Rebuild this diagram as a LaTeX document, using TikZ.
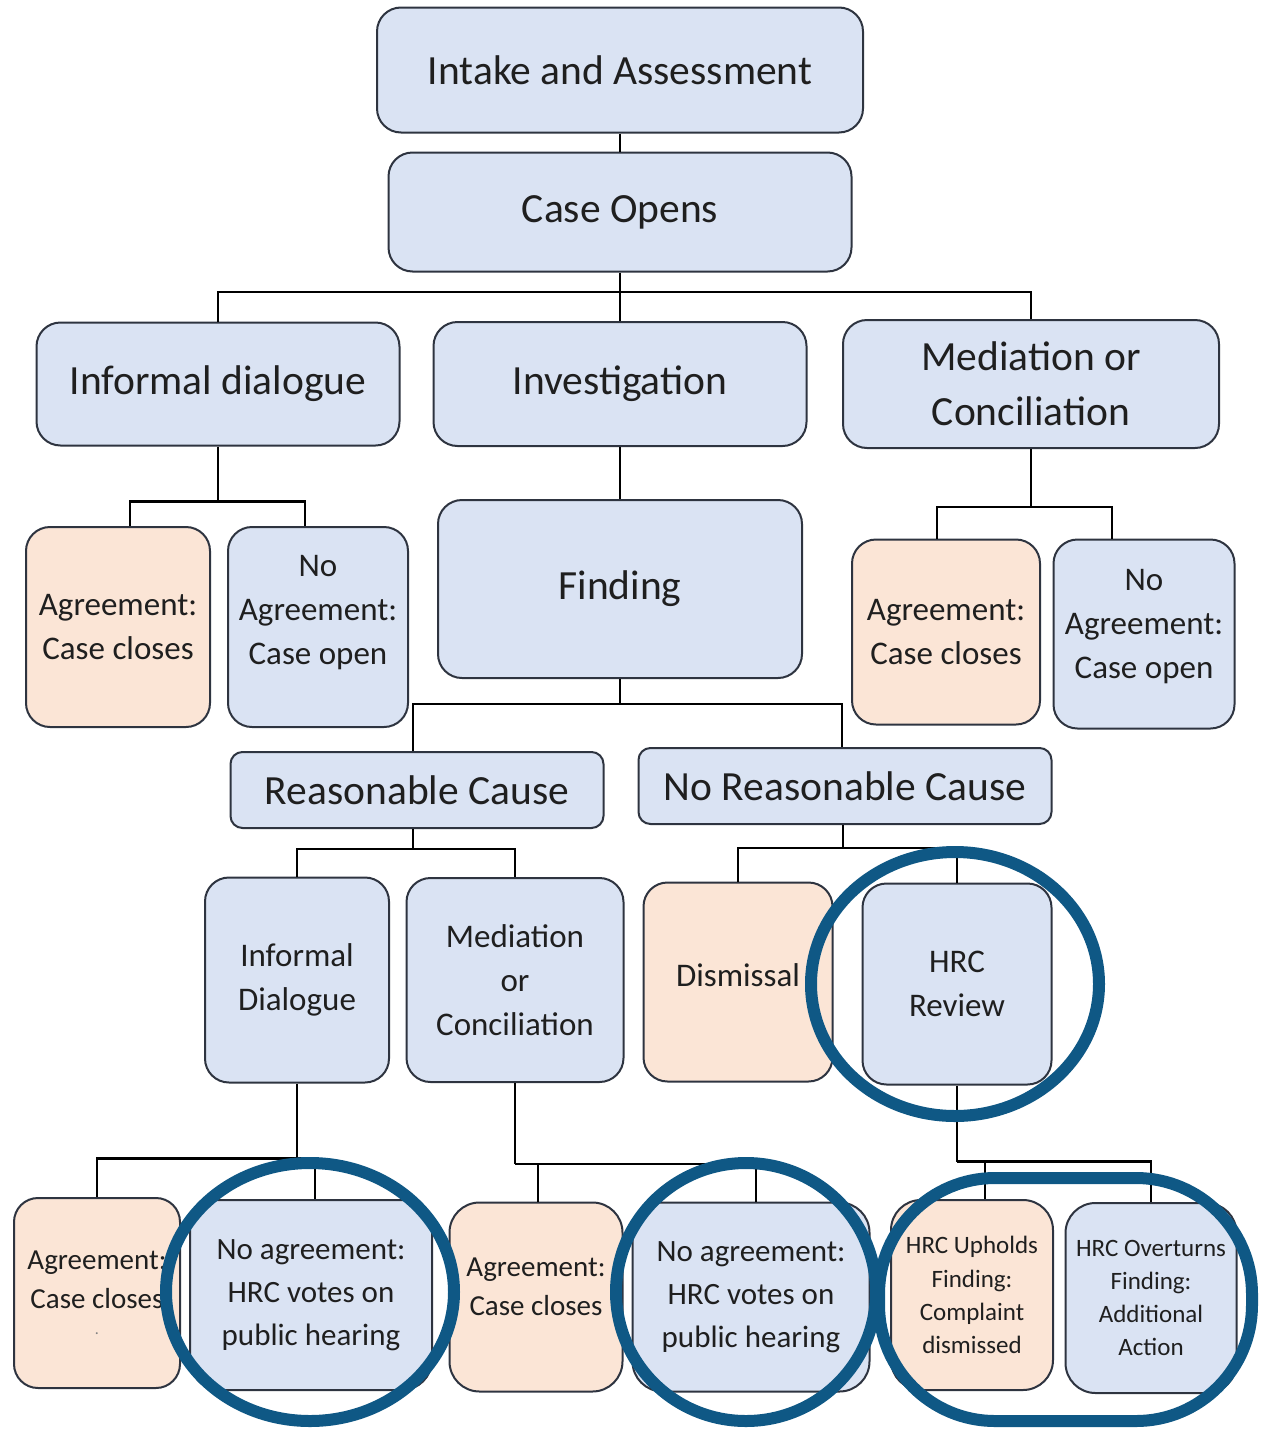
\documentclass[tikz,border=0pt]{standalone}
\usepackage{fontspec}
\setmainfont{Carlito}
\usetikzlibrary{positioning}

\definecolor{boxblue}{HTML}{DAE3F3}
\definecolor{boxpeach}{HTML}{FBE5D6}
\definecolor{boxline}{HTML}{2E3440}
\definecolor{ringblue}{RGB}{15,88,133}

\begin{document}
\begin{tikzpicture}[
    x=0.5pt, y=-0.5pt,
    box/.style={draw=boxline, line width=1pt, rounded corners=12pt, fill=boxblue,
        align=center, text=black!88, inner sep=2pt},
    done/.style={box, fill=boxpeach},
    sz/.style 2 args={minimum width=#1*0.5pt, minimum height=#2*0.5pt},
    big/.style={font=\fontsize{20.75}{27.6}\selectfont},
    mid/.style={font=\fontsize{16.5}{22}\selectfont},
    vote/.style={font=\fontsize{15.5}{21.6}\selectfont},
    low/.style={font=\fontsize{14.5}{19.3}\selectfont},
    sml/.style={font=\fontsize{12.5}{16.6}\selectfont},
    link/.style={draw=black, line width=1.2pt},
    ring/.style={draw=ringblue, line width=6pt}
]
\useasboundingbox (0,0) rectangle (1261,1430);

% top of the process
\node[box, big, sz={486}{125}] (intake) at (620,70) {Intake and Assessment};
\node[box, big, sz={463}{119}] (opens) at (620,212) {Case Opens};

% three ways forward
\node[box, big, sz={363}{123}] (infd) at (218,384) {Informal dialogue};
\node[box, big, sz={373}{124}] (inv) at (620,384) {Investigation};
\node[box, big, sz={376}{128}] (medc) at (1031,384) {Mediation or\\Conciliation};

\node[done, mid, sz={184}{200}] (agrA) at (118,627) {Agreement:\\Case closes};
\node[box, mid, sz={180}{200}] (noagrA) at (318,627) {No\\Agreement:\\Case open\\[-5pt]\mbox{}};
\node[box, big, sz={364}{178}] (find) at (620,589) {Finding};
\node[done, mid, sz={188}{185}] (agrB) at (946,632) {Agreement:\\Case closes};
\node[box, mid, sz={181}{189}] (noagrB) at (1144,634) {No\\Agreement:\\Case open\\[-12pt]\mbox{}};

% result of the finding
\node[box, big, sz={373}{76}, rounded corners=6pt] (rc) at (417,790) {Reasonable Cause};
\node[box, big, sz={413}{76}, rounded corners=6pt] (nrc) at (845,786) {No Reasonable Cause};

\node[box, mid, sz={184}{205}] (infd2) at (297,980) {Informal\\Dialogue};
\node[box, mid, sz={217}{204}] (medc2) at (515,980) {Mediation\\or\\Conciliation};
\node[done, mid, sz={189}{199}] (dism) at (738,982) {Dismissal\\[-15pt]\mbox{}};
\node[box, mid, sz={189}{201}] (hrc) at (957,984) {HRC\\Review};

% last row
\node[done, low, sz={166}{190}] (agrC) at (97,1293) {Agreement:\\Case closes\\[-6pt]{\color{gray}\fontsize{8}{8}\selectfont .}};
\node[box, vote, sz={242}{190}, rounded corners=15pt] (vote1) at (311,1295) {No agreement:\\HRC votes on\\public hearing};
\node[done, low, sz={173}{189}, rounded corners=15pt] (agrD) at (536,1297) {Agreement:\\Case closes\\[-9pt]\mbox{}};
\node[box, vote, sz={237}{189}, rounded corners=15pt] (vote2) at (751,1297) {No agreement:\\HRC votes on\\public hearing};
\node[done, sml, sz={162}{190}, rounded corners=15pt] (uph) at (972,1295) {HRC Upholds\\Finding:\\Complaint\\dismissed};
\node[box, sml, sz={171}{190}, rounded corners=15pt] (ovt) at (1151,1298) {HRC Overturns\\Finding:\\Additional\\Action};

% connectors
\coordinate (jA) at (620,292);
\draw[link] (intake) -- (opens);
\draw[link] (opens) -- (inv);
\draw[link] (infd.north) |- (jA) -| (medc.north);

\draw[link] (infd.south) -- ++(0,55) coordinate (jB);
\draw[link] ([xshift=6pt]agrA.north) |- (jB) -| ([xshift=-6.5pt]noagrA.north);
\draw[link] (inv) -- (find);
\draw[link] (medc.south) -- ++(0,58) coordinate (jC);
\draw[link] ([xshift=-4.5pt]agrB.north) |- (jC) -| ([xshift=-16pt]noagrB.north);

\draw[link] (find.south) -- ++(0,25) coordinate (jD);
\draw[link] ([xshift=-2pt]rc.north) |- (jD) -| ([xshift=-1.5pt]nrc.north);
\draw[link] ([xshift=-2pt]rc.south) -- ++(0,20) coordinate (jE);
\draw[link] (infd2.north) |- (jE) -| (medc2.north);
\draw[link] ([xshift=-1pt]nrc.south) -- ++(0,23) coordinate (jF);
\draw[link] (dism.north) |- (jF) -| (hrc.north);

\draw[link] (infd2.south) -- ++(0,75) coordinate (jG);
\draw[link] (agrC.north) |- (jG) -| ([xshift=2pt]vote1.north);
\draw[link] (medc2.south) -- ++(0,81) coordinate (jH);
\draw[link] ([xshift=1pt]agrD.north) |- (jH) -| ([xshift=2.5pt]vote2.north);
\draw[link] (hrc.south) -- ++(0,76) coordinate (jI);
\draw[link] ([xshift=6.5pt]uph.north) |- (jI) -| (ovt.north);

% highlight rings
\begin{scope}
\clip (0,0) rectangle (1261,1430);
\draw[ring] (955,984) ellipse [x radius=72pt, y radius=66pt];
\draw[ring] (310,1292) ellipse [x radius=72pt, y radius=64.5pt];
\draw[ring] (746,1292) ellipse [x radius=65pt, y radius=64.5pt];
\draw[ring, rounded corners=58pt] (879,1178) rectangle (1252,1421);
\end{scope}
\end{tikzpicture}
\end{document}
